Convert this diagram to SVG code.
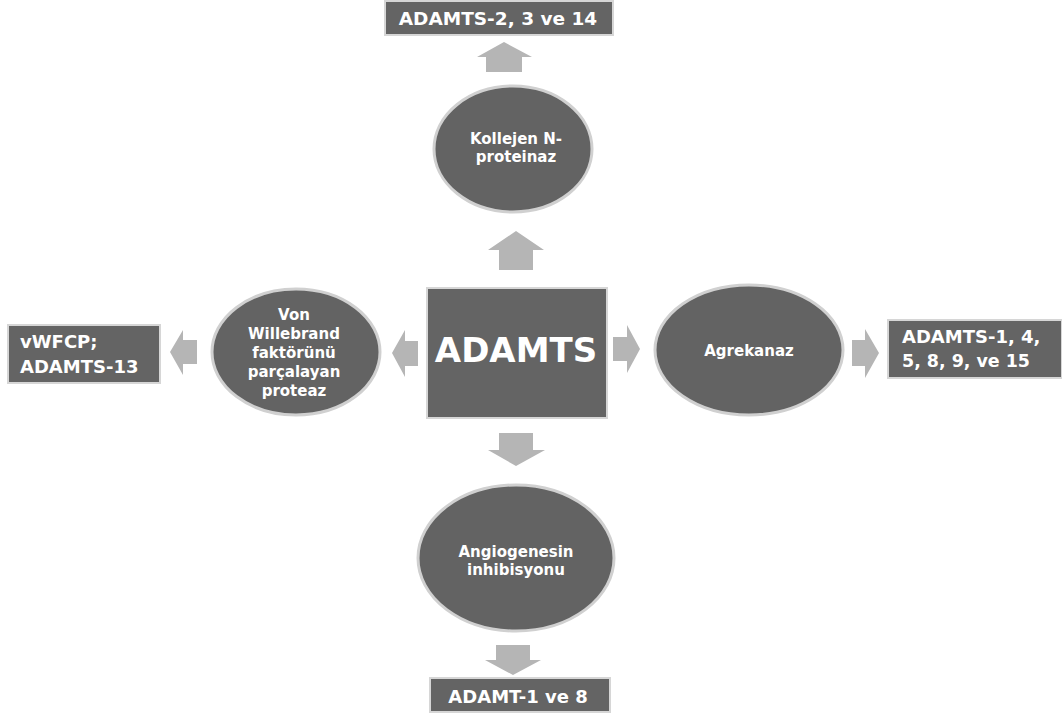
<svg xmlns="http://www.w3.org/2000/svg" width="1062" height="717" viewBox="0 0 1062 717">
<style>
.box{fill:#646464;stroke:#d6d6d6;stroke-width:2}
.ell{fill:#636363;stroke:#d0d0d0;stroke-width:3}
.arr{fill:#b5b5b5}
text{font-family:"DejaVu Sans","Liberation Sans",sans-serif;font-weight:bold;fill:#ffffff}
.c{text-anchor:middle}
.s{font-size:15px}
.m{font-size:18px}
</style>
<rect width="1062" height="717" fill="#ffffff"/>
<g id="connectors">
<polygon class="arr" points="504,42 532,57 522,57 522,72 486,72 486,57 477,57"/>
<polygon class="arr" points="516,231 544,250 533,250 533,270 499,270 499,250 488,250"/>
<polygon class="arr" points="392,353 405,330 405,341 418,341 418,366 405,366 405,377"/>
<polygon class="arr" points="170,352 183,330 183,340 197,340 197,364 183,364 183,375"/>
<polygon class="arr" points="640,349 627,325 627,337 613,337 613,361 627,361 627,373"/>
<polygon class="arr" points="879,353 865,329 865,340 852,340 852,366 865,366 865,378"/>
<polygon class="arr" points="516,466 545,450 533,450 533,433 499,433 499,450 488,450"/>
<polygon class="arr" points="513,675 541,660 530,660 530,645 496,645 496,660 485,660"/>
</g>
<g id="n_adamts214">
<rect class="box" x="385" y="1" width="228" height="34"/>
<text x="498" y="25" text-anchor="middle" font-size="18.5">ADAMTS-2, 3 ve 14</text>
</g>
<g id="n_kollejen">
<ellipse class="ell" cx="513" cy="149" rx="79" ry="63"/>
<text class="s c" x="516" y="144">Kollejen N-</text>
<text class="s c" x="516" y="162">proteinaz</text>
</g>
<g id="n_adamts">
<rect class="box" x="427" y="288" width="180" height="130"/>
<text x="516" y="362" text-anchor="middle" font-size="34">ADAMTS</text>
</g>
<g id="n_vwf">
<ellipse class="ell" cx="296" cy="352" rx="84" ry="63"/>
<text class="s c" x="294" y="320">Von</text>
<text class="s c" x="294" y="339">Willebrand</text>
<text class="s c" x="294" y="358">faktörünü</text>
<text class="s c" x="294" y="377">parçalayan</text>
<text class="s c" x="294" y="396">proteaz</text>
</g>
<g id="n_vwfcp">
<rect class="box" x="8" y="325" width="152" height="58"/>
<text class="m" x="20" y="348">vWFCP;</text>
<text class="m" x="20" y="373">ADAMTS-13</text>
</g>
<g id="n_agrekanaz">
<ellipse class="ell" cx="749" cy="350" rx="94" ry="65"/>
<text class="s c" x="749" y="356">Agrekanaz</text>
</g>
<g id="n_adamts14">
<rect class="box" x="888" y="320" width="174" height="58"/>
<text class="m" x="902" y="343">ADAMTS-1, 4,</text>
<text class="m" x="902" y="367" textLength="128" lengthAdjust="spacingAndGlyphs">5, 8, 9, ve 15</text>
</g>
<g id="n_angio">
<ellipse class="ell" cx="516" cy="558" rx="98" ry="73"/>
<text class="s c" x="516" y="557">Angiogenesin</text>
<text class="s c" x="516" y="575">inhibisyonu</text>
</g>
<g id="n_adamt18">
<rect class="box" x="430" y="678" width="180" height="34"/>
<text class="m" x="518" y="703" text-anchor="middle">ADAMT-1 ve 8</text>
</g>
</svg>
